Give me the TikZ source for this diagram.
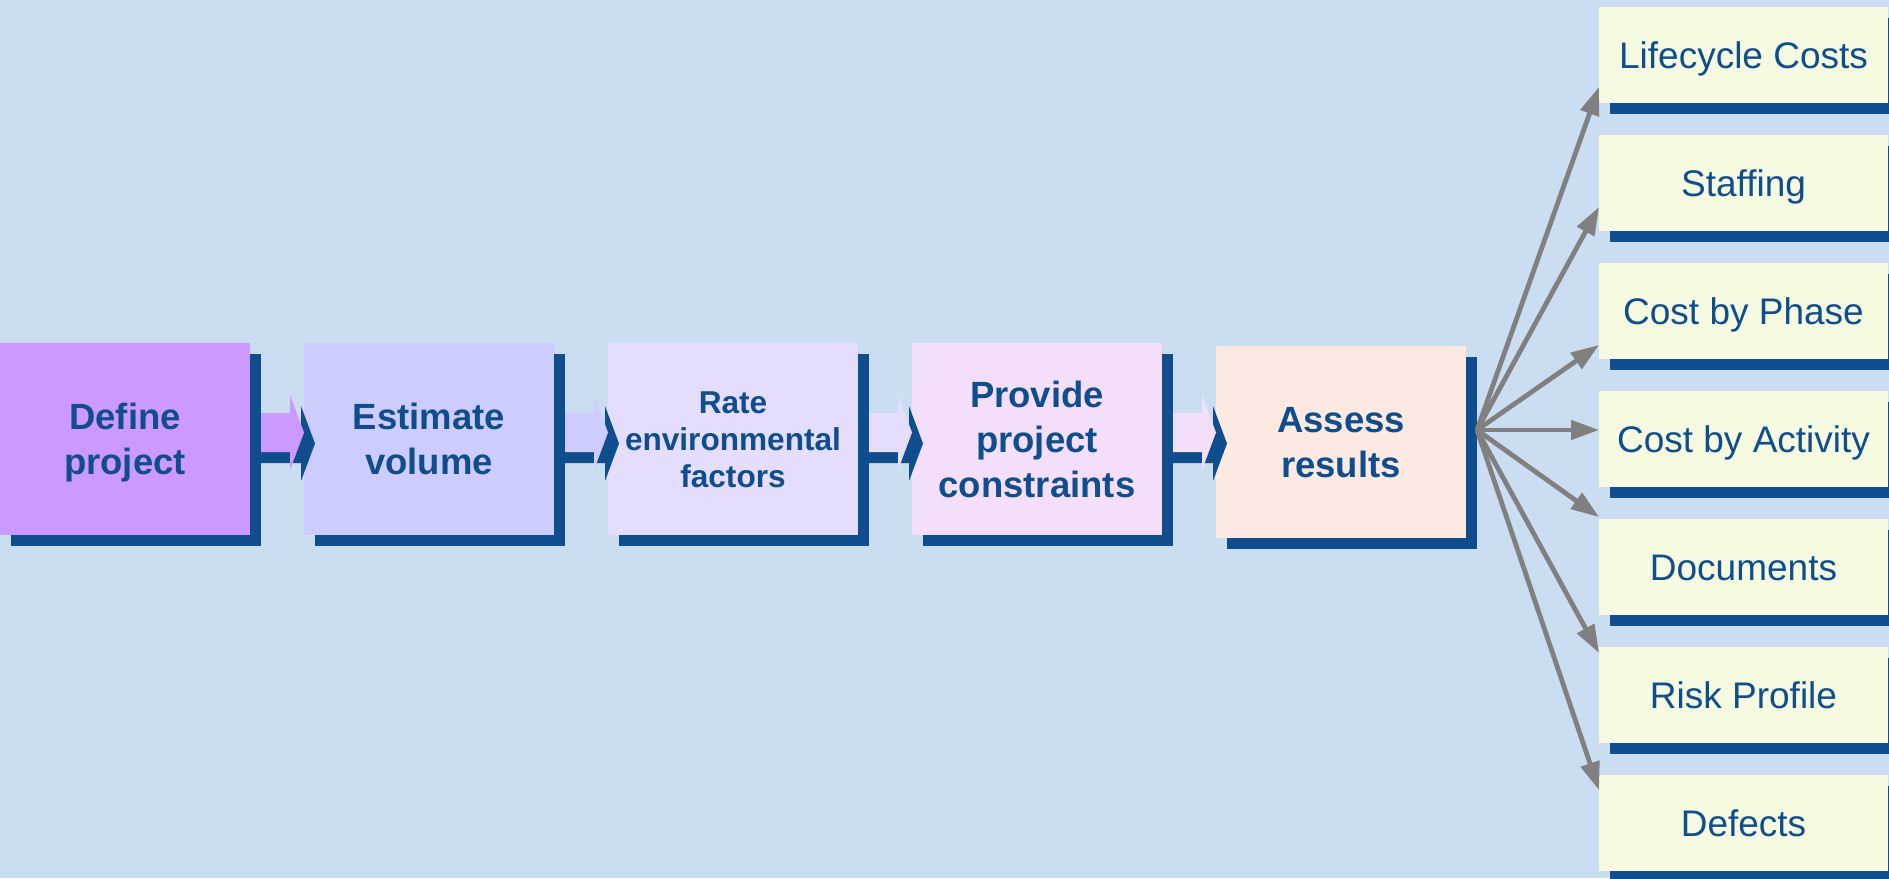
\documentclass[tikz,border=0pt]{standalone}
\usepackage{fontspec}
\setmainfont{Liberation Sans}
\usetikzlibrary{calc,shadows,arrows.meta}
\definecolor{bg}{RGB}{202,221,241}
\definecolor{dkblue}{RGB}{16,77,140}
\definecolor{c1}{RGB}{204,153,255}
\definecolor{c2}{RGB}{204,204,255}
\definecolor{c3}{RGB}{228,222,252}
\definecolor{c4}{RGB}{243,223,251}
\definecolor{c5}{RGB}{252,233,225}
\definecolor{cout}{RGB}{245,250,224}
\definecolor{fangray}{RGB}{128,128,128}
\newcommand{\mlines}[1]{\begin{tabular}[b]{@{}c@{}}#1\end{tabular}}
\begin{document}
\begin{tikzpicture}[x=1pt,y=-1pt,
  stepbox/.style={minimum width=250pt,minimum height=192pt,inner sep=0pt,outer sep=0pt,
    text=dkblue,font=\fontsize{36.5}{45}\selectfont\bfseries,text depth=0pt,
    drop shadow={shadow xshift=11pt,shadow yshift=-11pt,fill=dkblue,opacity=1}},
  twoline/.style={text height=71.1pt},
  threeline/.style={text height=116.1pt},
  smallthree/.style={font=\fontsize{31.6}{37}\selectfont\bfseries,text height=96.6pt},
  outbox/.style={minimum width=289pt,minimum height=96pt,inner sep=0pt,outer sep=0pt,
    fill=cout,text=dkblue,font=\fontsize{37}{44}\selectfont,text height=26.5pt,text depth=0pt,
    drop shadow={shadow xshift=11pt,shadow yshift=-11pt,fill=dkblue,opacity=1}},
  fanarrow/.style={draw=fangray,line width=4.8pt,-{Triangle[length=28pt,width=19pt]}}
]
\useasboundingbox (0,0) rectangle (1889,878);
\clip (0,0) rectangle (1889,878);
\fill[bg] (0,0) rectangle (1889,878);

% process steps
\node[stepbox,twoline,fill=c1] (b1) at (125,439) {\mlines{Define\\project}};
\node[stepbox,twoline,fill=c2] (b2) at (429,439) {\mlines{Estimate\\volume}};
\node[stepbox,smallthree,fill=c3] (b3) at (733,439) {\mlines{Rate\\environmental\\factors}};
\node[stepbox,threeline,fill=c4] (b4) at (1037,439) {\mlines{Provide\\project\\constraints}};
\node[stepbox,twoline,fill=c5] (b5) at (1341,442) {\mlines{Assess\\results}};

% chevron connectors
\foreach \a/\b/\c in {b1/b2/c1,b2/b3/c2,b3/b4/c3,b4/b5/c4}{
  \fill[dkblue] ($(\a.north east)+(11,81)$) -- ($(\a.north east)+(51,81)$)
    -- ($(\a.north east)+(51,63)$) -- ($(\b.north west |- \a.north east)+(11,100.5)$)
    -- ($(\a.north east)+(51,138)$) -- ($(\a.north east)+(51,120)$)
    -- ($(\a.north east)+(11,120)$) -- cycle;
  \fill[\c] ($(\a.north east)+(11,70)$) -- ($(\a.north east)+(40,70)$)
    -- ($(\a.north east)+(40,52)$) -- ($(\b.north west |- \a.north east)+(0,89.5)$)
    -- ($(\a.north east)+(40,127)$) -- ($(\a.north east)+(40,109)$)
    -- ($(\a.north east)+(11,109)$) -- cycle;
}

% outputs
\node[outbox] (r1) at (1743.5,55) {Lifecycle Costs};
\node[outbox] (r2) at (1743.5,183) {Staffing};
\node[outbox] (r3) at (1743.5,311) {Cost by Phase};
\node[outbox] (r4) at (1743.5,439) {Cost by Activity};
\node[outbox] (r5) at (1743.5,567) {Documents};
\node[outbox] (r6) at (1743.5,695) {Risk Profile};
\node[outbox] (r7) at (1743.5,823) {Defects};

% fan-out arrows
\coordinate (fan) at ($(b5.north east)+(11,84)$);
\foreach \r/\dy in {r1/80,r2/72,r3/82,r4/39,r5/-2,r6/6,r7/15}{
  \draw[fanarrow] (fan) -- ($(\r.north west)+(0,\dy)$);
}
\end{tikzpicture}
\end{document}
